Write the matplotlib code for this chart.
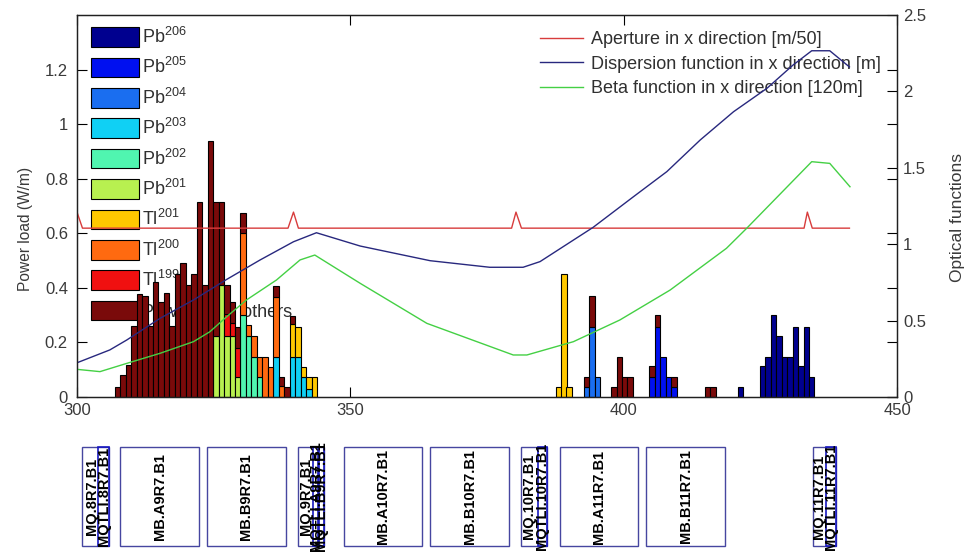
import matplotlib
matplotlib.use('Agg')
import matplotlib.pyplot as plt
from matplotlib.patches import Patch, Rectangle
from matplotlib.lines import Line2D

plt.rcParams['font.family'] = ['Liberation Sans', 'DejaVu Sans']
plt.rcParams['mathtext.fontset'] = 'custom'
plt.rcParams['mathtext.rm'] = 'Liberation Sans'
plt.rcParams['mathtext.it'] = 'Liberation Sans'
plt.rcParams['mathtext.bf'] = 'Liberation Sans:bold'

# ---------------- data ----------------
species = ['Pb$^{206}$', 'Pb$^{205}$', 'Pb$^{204}$', 'Pb$^{203}$', 'Pb$^{202}$',
           'Pb$^{201}$', 'Tl$^{201}$', 'Tl$^{200}$', 'Tl$^{199}$', 'Power load, others']
species_colors = ['#00008f', '#0010f0', '#1a6ef0', '#10d0f4', '#50f5b0',
                  '#b8f050', '#ffc800', '#ff6a10', '#f01010', '#7a0a0a']

pb206_s = [421.4, 425.4, 426.4, 427.4, 428.4, 429.4, 430.4, 431.4, 432.4, 433.4, 434.4]
pb206_w = [0.037, 0.113, 0.148, 0.300, 0.223, 0.148, 0.148, 0.258, 0.113, 0.258, 0.075]

pb205_s = [405.2, 406.2, 407.2, 408.2, 409.2]
pb205_w = [0.075, 0.256, 0.148, 0.075, 0.037]

pb204_s = [393.2, 394.2, 395.2]
pb204_w = [0.037, 0.256, 0.075]

pb203_s = [336.4, 339.4, 340.4, 341.4, 342.4]
pb203_w = [0.148, 0.148, 0.148, 0.075, 0.030]

pb202_s = [330.4, 331.4, 332.4, 333.4]
pb202_w = [0.300, 0.223, 0.148, 0.075]

pb201_s = [325.4, 326.4, 327.4, 328.4, 329.4]
pb201_w = [0.223, 0.410, 0.223, 0.223, 0.075]

tl201_s = [339.4, 340.4, 341.4, 342.4, 343.4, 388.2, 389.1, 390.0]
tl201_w = [0.120, 0.110, 0.035, 0.045, 0.075, 0.037, 0.452, 0.037]

tl200_s = [330.4, 331.4, 332.4, 333.4, 334.4, 335.4, 336.4, 337.4]
tl200_w = [0.300, 0.040, 0.075, 0.073, 0.148, 0.110, 0.220, 0.040]

tl199_s = [327.4, 328.4, 329.4]
tl199_w = [0.080, 0.050, 0.105]

others_s = [307.4, 308.4, 309.4, 310.4, 311.4, 312.4, 313.4, 314.4, 315.4, 316.4,
            317.4, 318.4, 319.4, 320.4, 321.4, 322.4, 323.4, 324.4, 325.4, 326.4,
            327.4, 328.4, 329.4, 330.4, 336.4, 337.4, 338.4, 339.4,
            393.2, 394.2, 398.2, 399.2, 400.2, 401.2, 405.2, 406.2, 409.2, 415.3, 416.3]
others_w = [0.038, 0.080, 0.117, 0.260, 0.377, 0.370, 0.260, 0.420, 0.350, 0.380,
            0.260, 0.450, 0.490, 0.410, 0.450, 0.714, 0.410, 0.937, 0.491, 0.304,
            0.107, 0.077, 0.076, 0.076, 0.040, 0.035, 0.037, 0.030,
            0.038, 0.115, 0.037, 0.148, 0.075, 0.075, 0.038, 0.044, 0.038, 0.037, 0.037]

species_s = [pb206_s, pb205_s, pb204_s, pb203_s, pb202_s, pb201_s, tl201_s, tl200_s, tl199_s, others_s]
species_w = [pb206_w, pb205_w, pb204_w, pb203_w, pb202_w, pb201_w, tl201_w, tl200_w, tl199_w, others_w]

# optical functions (right axis)
aper_s = [300.0, 301.0, 338.6, 339.6, 340.5, 379.5, 380.3, 381.3, 433.0, 433.6, 434.5, 441.3]
aper_v = [1.21, 1.105, 1.105, 1.21, 1.105, 1.105, 1.21, 1.105, 1.105, 1.21, 1.105, 1.105]

disp_s = [300.0, 306.0, 309.1, 315.2, 321.3, 327.4, 333.5, 339.6, 343.8, 351.8, 364.6,
          375.5, 381.6, 384.7, 394.4, 401.8, 407.9, 414.0, 420.1, 426.2, 431.0, 434.4,
          437.7, 441.3]
disp_v = [0.224, 0.308, 0.373, 0.515, 0.635, 0.770, 0.897, 1.016, 1.075, 0.988, 0.892,
          0.849, 0.849, 0.886, 1.110, 1.311, 1.475, 1.682, 1.867, 2.020, 2.173, 2.266,
          2.266, 2.160]

beta_s = [300.0, 304.2, 309.1, 315.2, 321.3, 324.3, 327.4, 331.0, 336.5, 340.8, 343.5,
          351.8, 364.0, 379.8, 382.3, 390.8, 399.3, 408.5, 418.8, 422.5, 434.4, 437.7, 441.4]
beta_v = [0.181, 0.166, 0.220, 0.286, 0.362, 0.427, 0.526, 0.635, 0.766, 0.897, 0.929,
          0.744, 0.482, 0.275, 0.275, 0.362, 0.504, 0.700, 0.973, 1.104, 1.540, 1.529, 1.376]

line_labels = ['Aperture in x direction [m/50]', 'Dispersion function in x direction [m]',
               'Beta function in x direction [120m]']
line_colors = ['#d83c3c', '#28287e', '#44d044']

# magnet layout
mag_names = ['MQ.8R7.B1', 'MB.A9R7.B1', 'MB.B9R7.B1', 'MQ.9R7.B1', 'MB.A10R7.B1',
             'MB.B10R7.B1', 'MQ.10R7.B1', 'MB.A11R7.B1', 'MB.B11R7.B1', 'MQ.11R7.B1']
mag_start = [300.9, 307.9, 323.7, 340.4, 348.8, 364.6, 381.3, 388.3, 404.1, 434.6]
mag_end = [305.9, 322.4, 338.2, 345.1, 363.2, 379.0, 385.9, 402.6, 418.6, 438.8]
mag_label_s = [302.7, 315.15, 330.95, 341.8, 356.0, 371.8, 382.7, 395.45, 411.35, 435.7]

corr_names = ['MQTLI.8R7.B1', 'MQTLI.A9R7.B1', 'MQTLI.B9R7.B1', 'MQTLI.10R7.B1', 'MQTLI.11R7.B1']
corr_start = [303.9, 343.2, 344.1, 384.4, 437.1]
corr_end = [305.9, 344.3, 345.2, 385.9, 438.8]

# ---------------- figure ----------------
W, H = 969, 552
fig = plt.figure(figsize=(W / 100, H / 100), dpi=100)
ax1 = fig.add_axes([77 / W, 1 - 397 / H, 820 / W, 382 / H])
ax2 = ax1.twinx()

acc = {}
for name, col, xs, ws in zip(species, species_colors, species_s, species_w):
    bottoms = [acc.get(x, 0.0) for x in xs]
    ax1.bar(xs, ws, width=1.0, bottom=bottoms, color=col, edgecolor='black',
            linewidth=0.8, zorder=2)
    for x, b, w in zip(xs, bottoms, ws):
        acc[x] = b + w

ax1.set_xlim(300, 450)
ax1.set_ylim(0, 1.4)
ax1.set_xticks([300, 350, 400, 450])
ax1.set_xticklabels(['300', '350', '400', '450'])
ax1.set_yticks([0, 0.2, 0.4, 0.6, 0.8, 1.0, 1.2])
ax1.set_yticklabels(['0', '0.2', '0.4', '0.6', '0.8', '1', '1.2'])
ax1.tick_params(axis='both', direction='in', length=7, width=0.8, labelsize=12,
                labelcolor='#3a3a3a', top=True, right=True, pad=4.5)
ax1.tick_params(axis='y', pad=6.5)
ax1.set_ylabel('Power load (W/m)', fontsize=11.2, color='#3a3a3a')
ax1.yaxis.set_label_coords(-0.0537, 0.44)

lines = []
for xs, vs, col in zip([aper_s, disp_s, beta_s], [aper_v, disp_v, beta_v], line_colors):
    ln, = ax2.plot(xs, vs, color=col, linewidth=1.0)
    lines.append(ln)
ax2.set_ylim(0, 2.5)
ax2.set_yticks([0, 0.5, 1.0, 1.5, 2.0, 2.5])
ax2.set_yticklabels(['0', '0.5', '1', '1.5', '2', '2.5'])
ax2.tick_params(axis='y', direction='in', length=7, width=0.8, labelsize=12,
                labelcolor='#3a3a3a', pad=4.5)
ax2.set_ylabel('Optical functions', fontsize=12.5, color='#3a3a3a', rotation=90)
ax2.yaxis.set_label_coords(1.0645, 0.47)

for ax in (ax1, ax2):
    for sp in ax.spines.values():
        sp.set_linewidth(0.9)
        sp.set_color('#202020')

handles = [Patch(facecolor=c, edgecolor='black', linewidth=0.8) for c in species_colors]
leg1 = ax1.legend(handles, species, loc='upper left', bbox_to_anchor=(91 / W, 1 - 27 / H),
                  bbox_transform=fig.transFigure, frameon=False, borderpad=0,
                  borderaxespad=0, handlelength=2.66, handleheight=1.28,
                  labelspacing=0.57, handletextpad=0.17, fontsize=13, labelcolor='#303030')
leg1.set_zorder(1)
ax1.add_artist(leg1)

lhandles = [Line2D([], [], color=c, linewidth=1.0) for c in line_colors]
leg2 = ax1.legend(lhandles, line_labels, loc='upper left', bbox_to_anchor=(540 / W, 1 - 31 / H),
                  bbox_transform=fig.transFigure, frameon=False, borderpad=0,
                  borderaxespad=0, handlelength=2.4, labelspacing=0.42,
                  handletextpad=0.4, fontsize=13, labelcolor='#303030')
leg2.set_zorder(1)

# ---------------- magnet layout panel ----------------
axm = fig.add_axes([77 / W, 6 / H, 820 / W, 99 / H])
axm.set_xlim(300, 450)
axm.set_ylim(0, 1)
axm.axis('off')
for name, s0, s1, sl in zip(mag_names, mag_start, mag_end, mag_label_s):
    axm.add_patch(Rectangle((s0, 0), s1 - s0, 1, fill=False, edgecolor='#4646a0',
                            linewidth=1.0, clip_on=False))
    axm.text(sl, 0.5, name, rotation=90, ha='center', va='center', fontsize=10.5,
             fontweight='bold', color='black', clip_on=False)
for name, s0, s1 in zip(corr_names, corr_start, corr_end):
    axm.add_patch(Rectangle((s0, 0), s1 - s0, 1, fill=False, edgecolor='#1818c0',
                            linewidth=1.2, clip_on=False))
    axm.text((s0 + s1) / 2, 0.5, name, rotation=90, ha='center', va='center', fontsize=10.5,
             fontweight='bold', color='black', clip_on=False)

fig.savefig('out.png', dpi=100)
